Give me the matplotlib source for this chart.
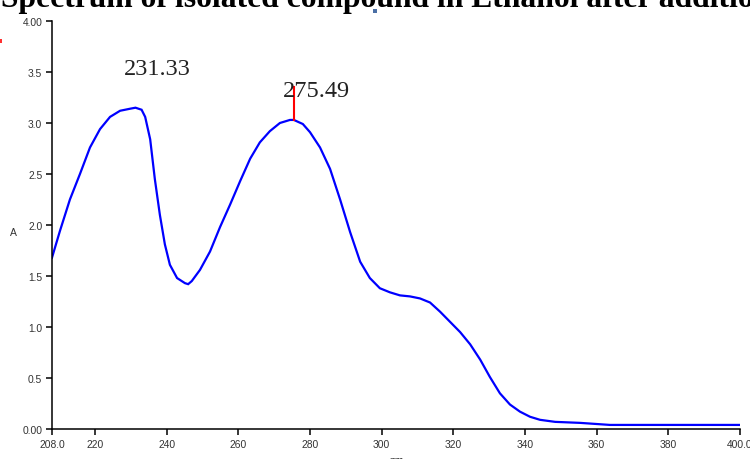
import matplotlib
matplotlib.use("Agg")
import matplotlib.pyplot as plt
from matplotlib.patches import Rectangle

# Data
wavelength = [208.0, 210.2, 213.0, 215.8, 218.6, 221.4, 224.2, 227.0, 229.8, 231.3,
              233.0, 234.0, 235.4, 236.7, 238.1, 239.5, 240.9, 242.9, 245.1, 246.0,
              247.0, 249.3, 252.1, 254.9, 257.7, 260.5, 263.3, 266.0, 268.8, 271.6,
              274.4, 275.5, 278.0, 280.0, 282.8, 285.6, 288.4, 291.2, 294.0, 296.7,
              299.5, 302.3, 305.1, 307.9, 310.7, 313.5, 316.3, 319.1, 321.9, 324.7,
              327.5, 330.2, 333.0, 335.8, 338.6, 341.4, 344.2, 348.4, 355.4, 363.7,
              380.0, 400.0]
absorbance = [1.68, 1.94, 2.25, 2.50, 2.76, 2.94, 3.06, 3.12, 3.14, 3.15,
              3.13, 3.06, 2.84, 2.45, 2.10, 1.81, 1.61, 1.48, 1.43, 1.42,
              1.45, 1.56, 1.74, 1.98, 2.20, 2.43, 2.65, 2.81, 2.92, 3.00,
              3.03, 3.03, 2.99, 2.91, 2.76, 2.55, 2.25, 1.93, 1.64, 1.48,
              1.38, 1.34, 1.31, 1.30, 1.28, 1.24, 1.15, 1.05, 0.95, 0.83,
              0.68, 0.51, 0.35, 0.24, 0.17, 0.12, 0.09, 0.07, 0.06, 0.04,
              0.04, 0.04]

xticks = [208, 220, 240, 260, 280, 300, 320, 340, 360, 380, 400]
xticklabels = ["208.0", "220", "240", "260", "280", "300", "320", "340", "360", "380", "400.0"]
yticks = [0.0, 0.5, 1.0, 1.5, 2.0, 2.5, 3.0, 3.5, 4.0]
yticklabels = ["0.00", "0.5", "1.0", "1.5", "2.0", "2.5", "3.0", "3.5", "4.00"]

peak_labels = ["231.33", "275.49"]
peak_marker_x = 275.49
peak_marker_y = [3.03, 3.35]

W, H = 750, 460
fig = plt.figure(figsize=(7.5, 4.6), dpi=100)
ax = fig.add_axes([52 / W, 30 / H, (740 - 52) / W, (438 - 30) / H])

ax.plot(wavelength, absorbance, color="#0000ff", lw=1.6, solid_joinstyle="miter")
ax.plot([peak_marker_x, peak_marker_x], peak_marker_y, color="#ff0000", lw=1.5)

ax.set_xlim(208, 400)
ax.set_ylim(0, 4.0)
ax.set_xticks(xticks)
ax.set_xticklabels(xticklabels)
ax.set_yticks(yticks)
ax.set_yticklabels(yticklabels)
for s in ["top", "right"]:
    ax.spines[s].set_visible(False)
for s in ["left", "bottom"]:
    ax.spines[s].set_linewidth(1.1)
    ax.spines[s].set_color("black")
ax.tick_params(axis="both", length=4, width=1.1, labelsize=7.4,
               labelcolor="#333333", pad=3)
for lab in ax.get_xticklabels() + ax.get_yticklabels():
    lab.set_family("Liberation Sans")

ax.text(237.3, 3.53, peak_labels[0], ha="center", va="center",
        fontsize=17.5, family="Liberation Serif", color="#222222")
ax.text(281.7, 3.32, peak_labels[1], ha="center", va="center",
        fontsize=17.5, family="Liberation Serif", color="#222222")

fig.text(13 / W, 1 - 233 / H, "A", ha="center", va="center", fontsize=7.5,
         family="Liberation Sans", color="#333333")
fig.text(396 / W, 1 - 456 / H, "nm", ha="center", va="top", fontsize=7.5,
         family="Liberation Sans", color="#333333")

fig.text(1 / W, 1 - 6.5 / H, "Spectrum of isolated compound in Ethanol after addition",
         ha="left", va="baseline", fontsize=22.75, family="Liberation Serif",
         weight="bold", color="black")

fig.add_artist(Rectangle((373 / W, 1 - 14 / H), 4 / W, 4 / H,
                         transform=fig.transFigure, color="#4a6fa5", lw=0))
fig.add_artist(Rectangle((0, 1 - 44 / H), 1.5 / W, 4 / H,
                         transform=fig.transFigure, color="#ff3030", lw=0))

fig.savefig("out.png", dpi=100)
